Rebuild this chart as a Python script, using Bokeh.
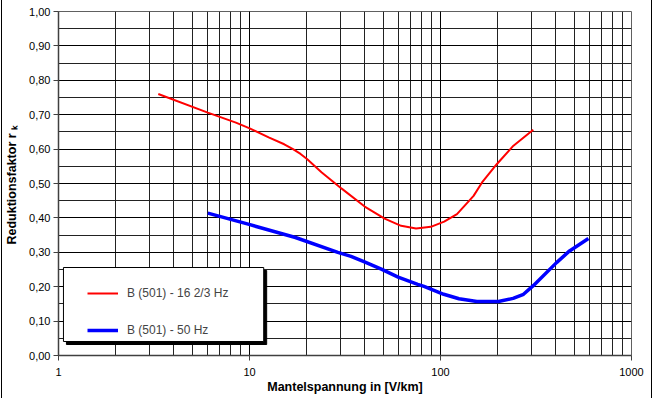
from bokeh.plotting import figure
from bokeh.embed import file_html
from bokeh.resources import INLINE
from bokeh.models import (FixedTicker, LogTicker, CustomJSTickFormatter, Legend,
                          LegendItem, BoxAnnotation, Range1d)

# ---- data ----
red_x = [3.33, 6.05, 8.49, 9.95, 12.6, 15.2, 16.9, 18.5, 20.0, 23.9, 30.4, 40.1, 51, 62.2,
         74.5, 89, 104.5, 122, 149, 165, 197, 241, 306]
red_y = [0.760, 0.706, 0.677, 0.661, 0.634, 0.614, 0.600, 0.586, 0.571, 0.532, 0.485,
         0.433, 0.398, 0.377, 0.369, 0.374, 0.389, 0.411, 0.464, 0.503, 0.556, 0.610, 0.656]
blue_x = [6.05, 9.95, 17.4, 29, 34, 40, 49, 60, 76, 82, 104, 125, 155, 201, 240, 272,
          306, 405, 474, 595]
blue_y = [0.414, 0.381, 0.343, 0.300, 0.288, 0.272, 0.251, 0.228, 0.207, 0.201, 0.178,
          0.165, 0.157, 0.157, 0.166, 0.178, 0.203, 0.270, 0.304, 0.340]
red_name = "B (501) - 16 2/3 Hz"
blue_name = "B (501) - 50 Hz"
y_ticks = [0.0, 0.1, 0.2, 0.3, 0.4, 0.5, 0.6, 0.7, 0.8, 0.9, 1.0]
y_minor = [0.05, 0.15, 0.25, 0.35, 0.45, 0.55, 0.65, 0.75, 0.85, 0.95]
x_labels = {1: "1", 10: "10", 100: "100", 1000: "1000"}
x_title = "Mantelspannung in [V/km]"
y_title = "Reduktionsfaktor  r \u2096"

FONT = "Liberation Sans"

W, H = 651, 399
ML, MT, MR = 51, 11, 22
FW = 578
FH = 344
MB = H - MT - FH

p = figure(width=W, height=H, x_axis_type="log", output_backend="svg",
           toolbar_location=None, x_range=Range1d(1, 1000), y_range=Range1d(0, 1),
           min_border_left=ML, min_border_top=MT, min_border_right=MR, min_border_bottom=MB)
p.styles = {"border-left": "1px solid black", "border-top": "1px solid black",
            "border-right": "1px solid black", "margin-top": "-1px",
            "margin-left": "1px", "margin-bottom": "-9px"}
p.background_fill_color = "white"
p.border_fill_color = "white"
p.outline_line_color = "#606060"
p.outline_line_width = 1

# axes
p.xaxis.ticker = LogTicker(desired_num_ticks=4, num_minor_ticks=10)
p.xaxis.major_label_overrides = x_labels
p.yaxis.ticker = FixedTicker(ticks=y_ticks, minor_ticks=y_minor)
p.yaxis.formatter = CustomJSTickFormatter(code="return tick.toFixed(2).replace('.', ',');")
for ax in (p.xaxis[0], p.yaxis[0]):
    ax.major_label_text_font = FONT
    ax.major_label_text_font_size = "11px"
    ax.major_label_text_color = "black"
    ax.axis_label_text_font = FONT
    ax.axis_label_text_font_size = "12.5px"
    ax.axis_label_text_font_style = "bold"
    ax.axis_label_text_color = "black"
    ax.axis_line_color = "#404040"
    ax.axis_line_width = 1.5
    ax.major_tick_line_color = "#404040"
    ax.major_tick_in = 0
    ax.major_tick_out = 5
    ax.minor_tick_in = 0
    ax.minor_tick_out = 0
p.xaxis.axis_label = x_title
p.xaxis.major_label_standoff = 7
p.xaxis.axis_label_standoff = 1
p.yaxis.major_label_standoff = 3
p.yaxis.axis_label = y_title
p.yaxis.axis_label_standoff = 7

# grids
for g in (p.xgrid[0], p.ygrid[0]):
    g.grid_line_color = "black"
    g.grid_line_width = 1
    g.minor_grid_line_color = "#222222"
    g.minor_grid_line_width = 1
p.xgrid.ticker = LogTicker(desired_num_ticks=4, num_minor_ticks=10)
p.ygrid.ticker = FixedTicker(ticks=y_ticks, minor_ticks=y_minor)

r_red = p.line(red_x, red_y, line_color="#ff0000", line_width=2)
r_blue = p.line(blue_x, blue_y, line_color="#0000ff", line_width=3.5)

# helpers: canvas pixel -> data space (for decoration placement only)
def px_x(px):
    return 10 ** (3.0 * (px - ML) / FW)

def px_y(py):
    return 1.0 - (py - MT) / FH

# legend frame with shadow
bl, bt, br, bb = 56, 267, 258, 341
p.add_layout(BoxAnnotation(left=px_x(bl + 3), right=px_x(br + 3), top=px_y(bt + 3),
                           bottom=px_y(bb + 3), fill_color="black", fill_alpha=1,
                           line_color="black", line_alpha=1))
p.add_layout(BoxAnnotation(left=px_x(bl), right=px_x(br), top=px_y(bt), bottom=px_y(bb),
                           fill_color="white", fill_alpha=1, line_color="black",
                           line_width=1, line_alpha=1))

legend = Legend(items=[LegendItem(label=red_name, renderers=[r_red]),
                       LegendItem(label=blue_name, renderers=[r_blue])],
                location=(29, 15), margin=0, padding=8, spacing=17,
                glyph_width=31, glyph_height=20, label_height=20, label_standoff=9,
                label_text_font=FONT, label_text_font_size="12px",
                background_fill_alpha=0, border_line_color=None)
p.add_layout(legend, "center")

open("out.html", "w").write(file_html(p, INLINE))
